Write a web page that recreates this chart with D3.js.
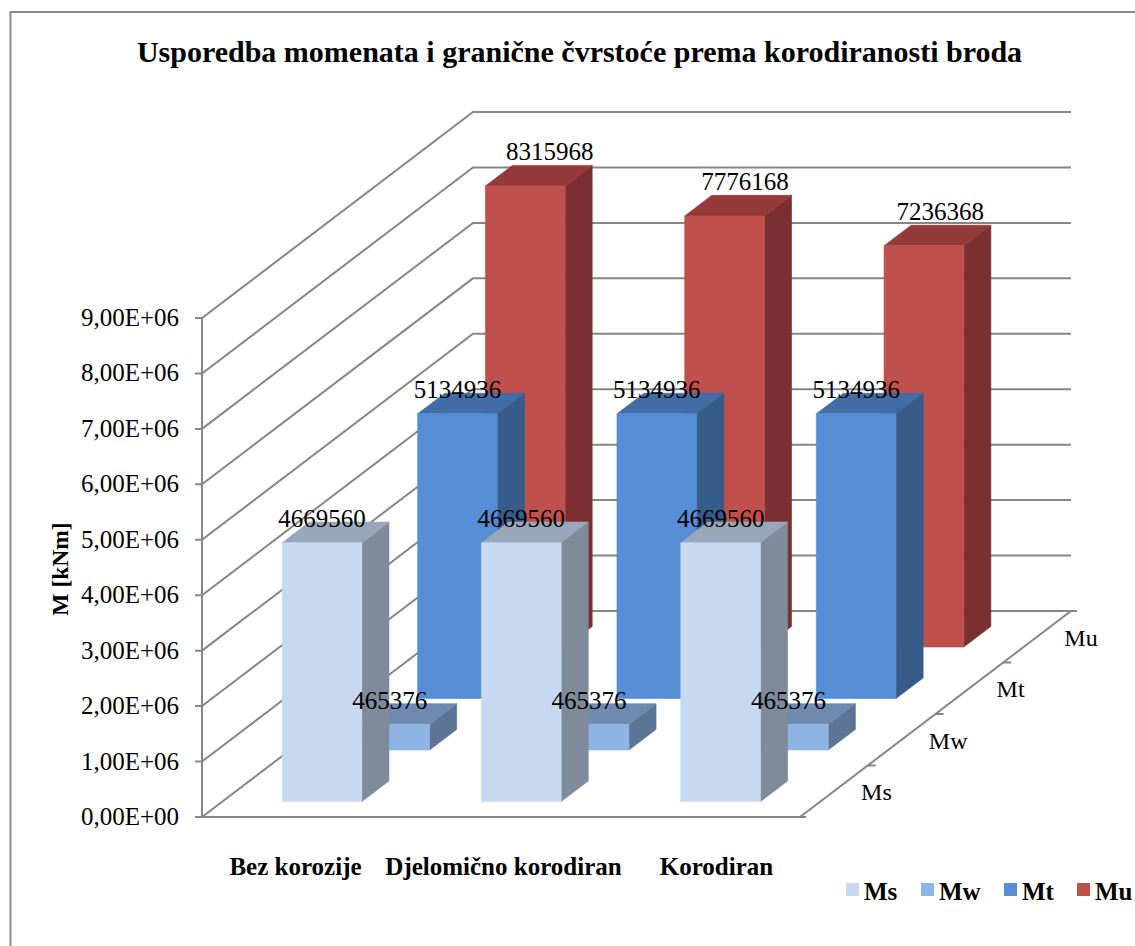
<!DOCTYPE html>
<html>
<head>
<meta charset="utf-8">
<script src="https://cdnjs.cloudflare.com/ajax/libs/d3/7.9.0/d3.min.js"></script>
<style>
  html, body { margin: 0; background: #fff; }
  svg { display: block; font-family: "Liberation Serif", serif; }
</style>
</head>
<body>
<script>
// chart data
const categories = ["Bez korozije", "Djelomično korodiran", "Korodiran"];
const seriesNames = ["Ms", "Mw", "Mt", "Mu"];
const msValues = [4669560, 4669560, 4669560];
const mwValues = [465376, 465376, 465376];
const mtValues = [5134936, 5134936, 5134936];
const muValues = [8315968, 7776168, 7236368];
const yTicks = [0, 1e6, 2e6, 3e6, 4e6, 5e6, 6e6, 7e6, 8e6, 9e6];
const yTickLabels = ["0,00E+00", "1,00E+06", "2,00E+06", "3,00E+06", "4,00E+06",
    "5,00E+06", "6,00E+06", "7,00E+06", "8,00E+06", "9,00E+06"];
const seriesValues = [msValues, mwValues, mtValues, muValues];

// colours per series: front, top, side
const faceColors = {
    Ms: ["#c6d9f1", "#98a7ba", "#7f8b9b"],
    Mw: ["#8eb4e3", "#6e8aaf", "#5c7596"],
    Mt: ["#558ed5", "#416ca5", "#375c89"],
    Mu: ["#c0504d", "#953a38", "#7a3030"]
};

const width = 1135, height = 946;
const originX = 202, originY = 817; // front left corner of the floor
const floorW = 598, wallH = 499;
const depthX = 271, depthY = 206;   // shift from the front of the floor to the back

const x = d3.scaleBand().domain(categories).range([0, floorW]).paddingInner(0.6).paddingOuter(0.3);
const z = d3.scaleBand().domain(seriesNames).range([0, 1]).paddingInner(0.6).paddingOuter(0.3);
const y = d3.scaleLinear().domain([0, 9e6]).range([0, wallH]);

// x along the floor, d = depth 0..1, h = height in pixels
function project(px, d, h) {
    return [originX + px + d * depthX, originY - d * depthY - h];
}
const poly = pts => pts.map(p => p.join(",")).join(" ");

const svg = d3.select("body").append("svg").attr("width", width).attr("height", height);

// frame, only top and left fall inside the crop
svg.append("rect").attr("x", 10.5).attr("y", 12).attr("width", width + 10).attr("height", height + 10)
    .attr("fill", "#fff").attr("stroke", "#8c8c8c").attr("stroke-width", 2);

svg.append("text").attr("x", 579.5).attr("y", 62).attr("text-anchor", "middle")
    .attr("font-size", 30).attr("font-weight", "bold").text("Usporedba momenata i granične čvrstoće prema korodiranosti broda");

// walls and gridlines
const grid = svg.append("g").attr("fill", "none").attr("stroke", "#868686").attr("stroke-width", 2);
yTicks.forEach(t => {
    const h = y(t);
    grid.append("polyline").attr("points", poly([
        [originX - 7, originY - h], project(0, 0, h), project(0, 1, h), project(floorW, 1, h)
    ]));
});
grid.append("line").attr("x1", originX).attr("x2", originX).attr("y1", originY).attr("y2", originY - wallH);
grid.append("polyline").attr("points", poly([
    project(0, 0, 0), [originX + floorW + 6, originY], project(floorW, 0, 0), project(floorW, 1, 0), [originX + floorW + depthX + 6, originY - depthY]
]));
[0.25, 0.5, 0.75].forEach(d => {
    const p = project(floorW, d, 0);
    grid.append("line").attr("x1", p[0]).attr("x2", p[0] + 8).attr("y1", p[1]).attr("y2", p[1]);
});

// bars, back series first; thin stroke closes the seams between the faces
const bars = svg.append("g").attr("stroke-width", 0.6);
d3.range(seriesNames.length - 1, -1, -1).forEach(si => {
    const name = seriesNames[si];
    const c = faceColors[name];
    categories.forEach((cat, ci) => {
        const x0 = x(cat), x1 = x0 + x.bandwidth();
        const d0 = z(name), d1 = d0 + z.bandwidth();
        const h = y(seriesValues[si][ci]);
        bars.append("polygon").attr("fill", c[2]).attr("stroke", c[2]).attr("points", poly([
            project(x1, d0, 0), project(x1, d1, 0), project(x1, d1, h), project(x1, d0, h)
        ]));
        bars.append("polygon").attr("fill", c[1]).attr("stroke", c[1]).attr("points", poly([
            project(x0, d0, h), project(x1, d0, h), project(x1, d1, h), project(x0, d1, h)
        ]));
        bars.append("polygon").attr("fill", c[0]).attr("stroke", c[0]).attr("points", poly([
            project(x0, d0, 0), project(x1, d0, 0), project(x1, d0, h), project(x0, d0, h)
        ]));
    });
});

// value labels sit on top of everything
const labels = svg.append("g").attr("font-size", 25).attr("text-anchor", "middle").attr("fill", "#000");
seriesNames.forEach((name, si) => {
    categories.forEach((cat, ci) => {
        const v = seriesValues[si][ci];
        const h = y(v);
        const front = project(x(cat) + x.bandwidth() / 2, z(name), h);
        const back = project(0, z(name) + z.bandwidth(), h);
        // Excel pushes the tall back labels to the right and above the bar
        const dx = name === "Mu" ? (v - 5.1e6) * 7.6e-6 : 0;
        labels.append("text")
            .attr("x", front[0] + dx)
            .attr("y", back[1] + (name === "Mu" ? -5 : 5))
            .text(v);
    });
});

// axis text
const yText = svg.append("g").attr("font-size", 25).attr("text-anchor", "end");
yTicks.forEach((t, i) => {
    yText.append("text").attr("x", 179).attr("y", originY - y(t) + 8).text(yTickLabels[i]);
});
svg.append("text").attr("transform", "translate(68,569) rotate(-90)").attr("text-anchor", "middle")
    .attr("font-size", 23.5).attr("font-weight", "bold").text("M [kNm]");

const catCenters = [295.5, 503.5, 716.5];
const catText = svg.append("g").attr("font-size", 25).attr("font-weight", "bold").attr("text-anchor", "middle");
categories.forEach((cat, i) => {
    catText.append("text").attr("x", catCenters[i]).attr("y", 875).text(cat);
});

const serText = svg.append("g").attr("font-size", 24);
seriesNames.forEach((name, i) => {
    const p = project(floorW, z(name) + z.bandwidth() * 1.8, 0);
    serText.append("text").attr("x", p[0] - 8).attr("y", p[1] + 36).text(name);
});

// legend
const legendX = [846, 921, 1004, 1077];
const legend = svg.append("g").attr("font-size", 25).attr("font-weight", "bold");
seriesNames.forEach((name, i) => {
    legend.append("rect").attr("x", legendX[i]).attr("y", 883).attr("width", 13).attr("height", 13)
        .attr("fill", faceColors[name][0]);
    legend.append("text").attr("x", legendX[i] + 18).attr("y", 900).text(name);
});
</script>
</body>
</html>
